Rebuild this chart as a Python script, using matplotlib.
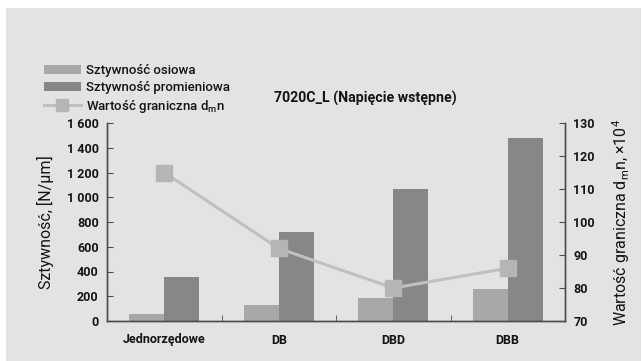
import matplotlib
matplotlib.use("Agg")
import matplotlib.pyplot as plt
from matplotlib.patches import Rectangle
from matplotlib.lines import Line2D
import numpy as np

plt.rcParams['font.family'] = ['Roboto', 'DejaVu Sans']
plt.rcParams['mathtext.fontset'] = 'custom'
plt.rcParams['mathtext.rm'] = 'Roboto'

categories = ["Jednorzędowe", "DB", "DBD", "DBB"]
axial_stiffness = [55, 130, 188, 260]
radial_stiffness = [355, 720, 1065, 1480]
dmn_limit = [115, 92, 80, 86]

stiff_ticks = [0, 200, 400, 600, 800, 1000, 1200, 1400, 1600]
stiff_labels = ["0", "200", "400", "600", "800", "1 000", "1 200", "1 400", "1 600"]
dmn_ticks = [70, 80, 90, 100, 110, 120, 130]

c_bg = "#e3e3e3"
c_axial = "#a8a8a8"
c_radial = "#878787"
c_line = "#c0c0c0"
c_marker = "#b5b5b5"
c_spine = "#4d4d4d"
c_text = "#141414"
tick_fs = 9
tick_fw = "bold"

fig = plt.figure(figsize=(6.42, 3.61), dpi=100)
fig.patch.set_facecolor("white")
fig.add_artist(Rectangle((6 / 642, 0), 635 / 642, 353 / 361, transform=fig.transFigure,
                         facecolor=c_bg, edgecolor="none", zorder=-10))

ax = fig.add_axes([107 / 642, 40 / 361, 458 / 642, 198 / 361])
ax.set_facecolor(c_bg)
x = np.arange(len(categories))
w = 0.305
ax.bar(x - w / 2, axial_stiffness, width=w, color=c_axial, zorder=2)
ax.bar(x + w / 2, radial_stiffness, width=w, color=c_radial, zorder=2)
ax.set_xlim(-0.5, 3.5)
ax.set_ylim(0, 1600)
ax.set_yticks(stiff_ticks)
ax.set_yticklabels(stiff_labels)
ax.set_xticks(x)
ax.set_xticklabels(categories)
ax.set_xticks([0.5, 1.5, 2.5], minor=True)
ax.tick_params(axis="x", which="major", length=0, pad=9, labelsize=tick_fs, colors=c_text)
ax.tick_params(axis="x", which="minor", direction="in", length=4, color=c_spine)
ax.tick_params(axis="y", direction="in", length=4, color=c_spine, labelsize=tick_fs,
               labelcolor=c_text, pad=6)
for lab in ax.get_xticklabels() + ax.get_yticklabels():
    lab.set_fontweight(tick_fw)
for s in ax.spines.values():
    s.set_color(c_spine)
    s.set_linewidth(1.0)
ax.spines["top"].set_visible(False)
ax.set_ylabel("Sztywność, [N/µm]", fontsize=11.5, color=c_text, labelpad=9)

ax2 = ax.twinx()
ax2.plot(x, dmn_limit, color=c_line, lw=2.2, marker="s", markersize=12,
         markerfacecolor=c_marker, markeredgecolor=c_marker, zorder=3)
ax2.set_ylim(70, 130)
ax2.set_yticks(dmn_ticks)
ax2.tick_params(axis="y", direction="in", length=4, color=c_spine, labelsize=tick_fs,
                labelcolor=c_text, pad=6)
for lab in ax2.get_yticklabels():
    lab.set_fontweight(tick_fw)
for s in ax2.spines.values():
    s.set_color(c_spine)
    s.set_linewidth(1.0)
ax2.spines["top"].set_visible(False)
ax2.set_ylabel(r"Wartość graniczna d$_\mathregular{m}$n, ×10$^\mathregular{4}$",
               fontsize=11.5, color=c_text, labelpad=11)

fig.text(365 / 642, (361 - 98) / 361, "7020C_L (Napięcie wstępne)", ha="center",
         va="center", fontsize=10.2, fontweight="bold", color=c_text)

handles = [
    Rectangle((0, 0), 1, 1, facecolor=c_axial, edgecolor="none"),
    Rectangle((0, 0), 1, 1, facecolor=c_radial, edgecolor="none"),
    Line2D([], [], color=c_line, lw=2.2, marker="s", markersize=9,
           markerfacecolor=c_marker, markeredgecolor=c_marker),
]
labels = ["Sztywność osiowa", "Sztywność promieniowa",
          r"Wartość graniczna d$_\mathregular{m}$n"]
leg = fig.legend(handles, labels, loc="upper left", bbox_to_anchor=(39 / 642, 1 - 59 / 361),
                 frameon=False, fontsize=9.5, handlelength=2.75, handleheight=0.6,
                 handletextpad=0.45, labelspacing=0.28, borderaxespad=0)
for t in leg.get_texts():
    t.set_color(c_text)
    t.set_fontweight("medium")

fig.savefig("out.png", dpi=100, facecolor=fig.get_facecolor())
